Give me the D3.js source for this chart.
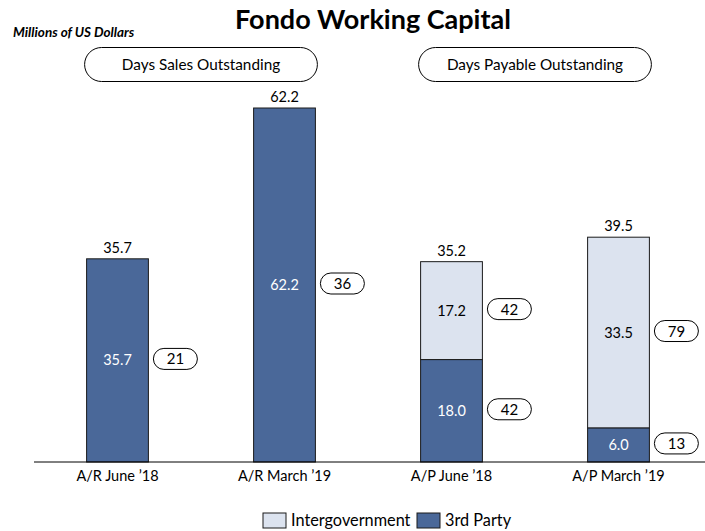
<!DOCTYPE html>
<html>
<head>
<meta charset="utf-8">
<script src="https://cdn.jsdelivr.net/npm/d3@7"></script>
<style>
  body { margin: 0; background: #fff; }
  svg { font-family: Lato, "Open Sans", sans-serif; }
</style>
</head>
<body>
<script>
// data
const categories = ["A/R June \u201918", "A/R March \u201919", "A/P June \u201918", "A/P March \u201919"];
const thirdParty = [35.7, 62.2, 18.0, 6.0];
const intergov = [0, 0, 17.2, 33.5];
const totals = [35.7, 62.2, 35.2, 39.5];
const daysThird = [21, 36, 42, 13];
const daysInter = [null, null, 42, 79];
const headers = ["Days Sales Outstanding", "Days Payable Outstanding"];

const W = 705, H = 531;
const darkBlue = "#4a6899", lightBlue = "#dce3ef";

const svg = d3.select("body").append("svg").attr("width", W).attr("height", H);

const x = d3.scaleBand().domain(categories).range([34, 702]).paddingInner(0.63).paddingOuter(0.315);
const y = d3.scaleLinear().domain([0, 62.2]).range([462, 108]);

// title
svg.append("text").attr("x", 373).attr("y", 29).attr("text-anchor", "middle")
  .attr("font-size", 27).attr("font-weight", "bold").text("Fondo Working Capital");
svg.append("text").attr("x", 13).attr("y", 37).attr("font-size", 13.5)
  .attr("font-weight", "bold").attr("font-style", "italic").text("Millions of US Dollars");

// header pills
const hdr = svg.selectAll(".hdr").data(headers).enter().append("g").attr("class", "hdr");
hdr.append("rect")
  .attr("x", (d, i) => x(categories[i * 2]) - 2)
  .attr("y", 47.5).attr("height", 34).attr("rx", 17)
  .attr("width", (d, i) => x(categories[i * 2 + 1]) + x.bandwidth() - x(categories[i * 2]) + 4)
  .attr("fill", "#fff").attr("stroke", "#000").attr("stroke-width", 1);
hdr.append("text")
  .attr("x", (d, i) => (x(categories[i * 2]) + x(categories[i * 2 + 1]) + x.bandwidth()) / 2)
  .attr("y", 70).attr("text-anchor", "middle").attr("font-size", 15.3).text(d => d);

// bars
const g = svg.selectAll(".bar").data(categories).enter().append("g").attr("class", "bar");
g.append("rect")
  .attr("x", d => x(d)).attr("width", x.bandwidth())
  .attr("y", (d, i) => y(thirdParty[i])).attr("height", (d, i) => y(0) - y(thirdParty[i]))
  .attr("fill", darkBlue).attr("stroke", "#1a1a1a").attr("stroke-width", 1);
g.filter((d, i) => intergov[i] > 0).append("rect")
  .attr("x", d => x(d)).attr("width", x.bandwidth())
  .attr("y", d => { const i = categories.indexOf(d); return y(thirdParty[i] + intergov[i]); })
  .attr("height", d => { const i = categories.indexOf(d); return y(thirdParty[i]) - y(thirdParty[i] + intergov[i]); })
  .attr("fill", lightBlue).attr("stroke", "#1a1a1a").attr("stroke-width", 1);

// segment labels
g.append("text")
  .attr("x", d => x(d) + x.bandwidth() / 2)
  .attr("y", (d, i) => y(thirdParty[i] / 2) + 5)
  .attr("text-anchor", "middle").attr("font-size", 14.5).attr("fill", "#fff")
  .text((d, i) => thirdParty[i].toFixed(1));
g.filter((d, i) => intergov[i] > 0).append("text")
  .attr("x", d => x(d) + x.bandwidth() / 2)
  .attr("y", d => { const i = categories.indexOf(d); return y(thirdParty[i] + intergov[i] / 2) + 5; })
  .attr("text-anchor", "middle").attr("font-size", 14.5).attr("fill", "#000")
  .text(d => intergov[categories.indexOf(d)].toFixed(1));

// totals
g.append("text")
  .attr("x", d => x(d) + x.bandwidth() / 2)
  .attr("y", (d, i) => y(totals[i]) - 6)
  .attr("text-anchor", "middle").attr("font-size", 14.5).attr("fill", "#000")
  .text((d, i) => totals[i].toFixed(1));

// days pills
function pill(sel, cx, cy, label) {
  sel.append("rect").attr("x", cx - 22).attr("y", cy - 10.5).attr("width", 44).attr("height", 21)
    .attr("rx", 10.5).attr("fill", "#fff").attr("stroke", "#000").attr("stroke-width", 1);
  sel.append("text").attr("x", cx).attr("y", cy + 5.5).attr("text-anchor", "middle")
    .attr("font-size", 15).text(label);
}
categories.forEach((c, i) => {
  const px = x(c) + x.bandwidth() + 27;
  pill(svg.append("g"), px, y(thirdParty[i] / 2) - 1.5, daysThird[i]);
  if (daysInter[i] != null) pill(svg.append("g"), px, y(thirdParty[i] + intergov[i] / 2) - 1.5, daysInter[i]);
});

// axis
const xAxis = svg.append("g").attr("transform", "translate(0,462)")
  .call(d3.axisBottom(x).tickSize(0).tickPadding(9));
xAxis.select(".domain").attr("d", "M34,0H705").attr("stroke", "#000");
xAxis.selectAll("text").attr("font-size", 14.5).attr("fill", "#000")
  .attr("font-family", "Lato, 'Open Sans', sans-serif");

// legend
const legendItems = [["Intergovernment", lightBlue, 263], ["3rd Party", darkBlue, 417]];
const lg = svg.selectAll(".lg").data(legendItems).enter().append("g");
lg.append("rect").attr("x", d => d[2]).attr("y", 513).attr("width", 23).attr("height", 15)
  .attr("fill", d => d[1]).attr("stroke", "#1a1a1a");
lg.append("text").attr("x", d => d[2] + 28).attr("y", 526).attr("font-size", 16.3).text(d => d[0]);
</script>
</body>
</html>
